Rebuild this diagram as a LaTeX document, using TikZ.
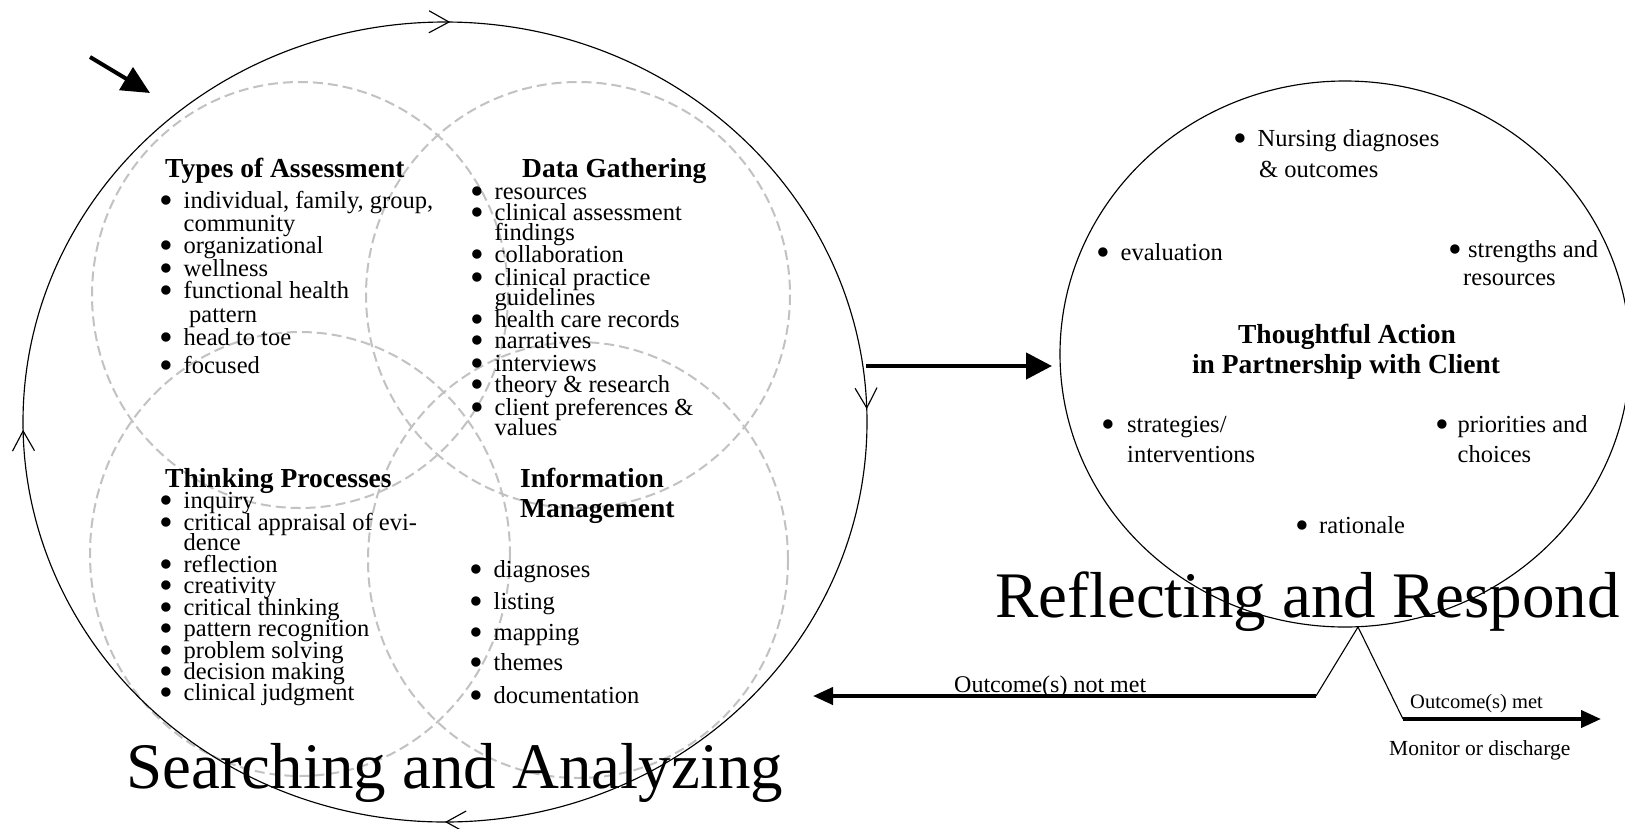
\documentclass[tikz,border=0pt]{standalone}
\usepackage{fontspec}
\usepackage{graphicx}
\setmainfont{Liberation Serif}
\usetikzlibrary{arrows.meta,decorations.markings}
\newcommand{\bul}[1][21.5pt]{\makebox[#1][l]{\hspace*{-3pt}\smash{\raisebox{-5pt}{\scalebox{1.6}{\textbullet}}}}}
\begin{document}
\begin{tikzpicture}[x=1pt,y=-1pt,
  txt/.style={anchor=base west, inner sep=0pt, font=\fontsize{24.5}{24}\selectfont},
  hd/.style={anchor=base west, inner sep=0pt, font=\fontsize{27.5}{28}\selectfont\bfseries},
  big/.style={anchor=base west, inner sep=0pt, font=\fontsize{65}{65}\selectfont},
  sm/.style={anchor=base west, inner sep=0pt, font=\fontsize{20.5}{20}\selectfont},
  venn/.style={draw=black!24, line width=2pt, dash pattern=on 10pt off 5pt},
  ring/.style={draw=black, line width=1.15pt},
  fat/.style={line width=4.5pt, -{Triangle[length=26pt,width=26pt]}},
  mid/.style={line width=4pt, -{Triangle[length=20pt,width=17pt]}},
  leg/.style={line width=1.1pt}
]
\useasboundingbox (0,0) rectangle (1625,828);
\clip (0,0) rectangle (1625,828);
\fill[white] (0,0) rectangle (1625,828);

% Venn circles
\draw[venn] (300,295) ellipse [x radius=208, y radius=213];
\draw[venn] (578,295) ellipse [x radius=212, y radius=213];
\draw[venn] (300,554) ellipse [x radius=210, y radius=222];
\draw[venn] (578,560) ellipse [x radius=210, y radius=218];

% outer cycle
\draw[ring, postaction={decorate}, decoration={markings,
   mark=at position 0.25 with {\arrow{Straight Barb[length=20pt,width=22pt]}},
   mark=at position 0.497 with {\arrow{Straight Barb[length=20pt,width=22pt]}},
   mark=at position 0.752 with {\arrow{Straight Barb[length=20pt,width=22pt]}},
   mark=at position 0.995 with {\arrow{Straight Barb[length=20pt,width=22pt]}}}]
   (445,422) ellipse [x radius=422, y radius=400];

% right circle
\draw[ring] (1345,354) ellipse [x radius=285, y radius=273];

% arrows
\coordinate (p0) at (90,57);
\coordinate (p1) at (150,93);
\draw[line width=4pt, -{Triangle[length=28pt,width=26pt]}] (p0) -- (p1);

\coordinate (h0) at (866,366);
\coordinate (h1) at (1052,366);
\draw[fat] (h0) -- (h1);

\coordinate (apex) at (1358,627);
\coordinate (n1) at (1316,696);
\coordinate (n2) at (813,696);
\coordinate (m1) at (1403,719);
\coordinate (m2) at (1601,719);
\draw[leg] (apex) -- (n1);
\draw[leg] (apex) -- (m1);
\draw[mid] (n1) -- (n2);
\draw[mid] (m1) -- (m2);

% Types of Assessment
\node[hd] (ta0) at (165,177) {Types of Assessment};
\node[txt] (ta1) at (162,208) {\bul individual, family, group,};
\node[txt] (ta2) at (183.5,231) {community};
\node[txt] (ta3) at (162,253) {\bul organizational};
\node[txt] (ta4) at (162,276) {\bul wellness};
\node[txt] (ta5) at (162,298) {\bul functional health};
\node[txt] (ta6) at (189,322) {pattern};
\node[txt] (ta7) at (162,345) {\bul head to toe};
\node[txt] (ta8) at (162,373) {\bul focused};

% Data Gathering
\node[hd] (dg0) at (522,177) {Data Gathering};
\node[txt] (dg1) at (473,199) {\bul resources};
\node[txt] (dg2) at (473,220) {\bul clinical assessment};
\node[txt] (dg3) at (494.5,240) {findings};
\node[txt] (dg4) at (473,262) {\bul collaboration};
\node[txt] (dg5) at (473,285) {\bul clinical practice};
\node[txt] (dg6) at (494.5,305) {guidelines};
\node[txt] (dg7) at (473,327) {\bul health care records};
\node[txt] (dg8) at (473,348) {\bul narratives};
\node[txt] (dg9) at (473,371) {\bul interviews};
\node[txt] (dg10) at (473,392) {\bul theory \& research};
\node[txt] (dg11) at (473,415) {\bul client preferences \&};
\node[txt] (dg12) at (494.5,435) {values};

% Thinking Processes
\node[hd] (tp0) at (165,487) {Thinking Processes};
\node[txt] (tp1) at (162,508) {\bul inquiry};
\node[txt] (tp2) at (162,530) {\bul critical appraisal of evi-};
\node[txt] (tp3) at (183.5,550) {dence};
\node[txt] (tp4) at (162,572) {\bul reflection};
\node[txt] (tp5) at (162,593) {\bul creativity};
\node[txt] (tp6) at (162,615) {\bul critical thinking};
\node[txt] (tp7) at (162,636) {\bul pattern recognition};
\node[txt] (tp8) at (162,658) {\bul problem solving};
\node[txt] (tp9) at (162,679) {\bul decision making};
\node[txt] (tp10) at (162,700) {\bul clinical judgment};

% Information Management
\node[hd] (im0) at (520,487) {Information};
\node[hd] (im1) at (520,517) {Management};
\node[txt] (im2) at (472,577) {\bul diagnoses};
\node[txt] (im3) at (472,609) {\bul listing};
\node[txt] (im4) at (472,640) {\bul mapping};
\node[txt] (im5) at (472,670) {\bul themes};
\node[txt] (im6) at (472,703) {\bul documentation};

% Right circle contents
\node[txt] (rc1) at (1236,146) {\bul Nursing diagnoses};
\node[txt] (rc2) at (1259,177) {\& outcomes};
\node[txt] (rc3) at (1099,260) {\bul evaluation};
\node[txt] (rc4) at (1451,257) {\bul[17pt]strengths and};
\node[txt] (rc5) at (1463,285) {resources};
\node[hd, anchor=base] (rc6) at (1347,343) {Thoughtful Action};
\node[hd, anchor=base] (rc7) at (1346,373) {in Partnership with Client};
\node[txt] (rc8) at (1104,432) {\bul[23pt]strategies/};
\node[txt] (rc9) at (1127,462) {interventions};
\node[txt] (rc10) at (1438,432) {\bul[19.5pt]priorities and};
\node[txt] (rc11) at (1457.5,462) {choices};
\node[txt] (rc12) at (1298,533) {\bul[21pt]rationale};

% big titles
\node[big] (sa) at (126,788) {Searching and Analyzing};
\node[big] (rr) at (995,617) {Reflecting and Respond};

% outcome labels
\node[txt, font=\fontsize{24}{24}\selectfont] (onm) at (954,692) {Outcome(s) not met};
\node[sm] (om) at (1410,708) {Outcome(s) met};
\node[sm, font=\fontsize{21.5}{20}\selectfont] (md) at (1389,755) {Monitor or discharge};
\end{tikzpicture}
\end{document}
